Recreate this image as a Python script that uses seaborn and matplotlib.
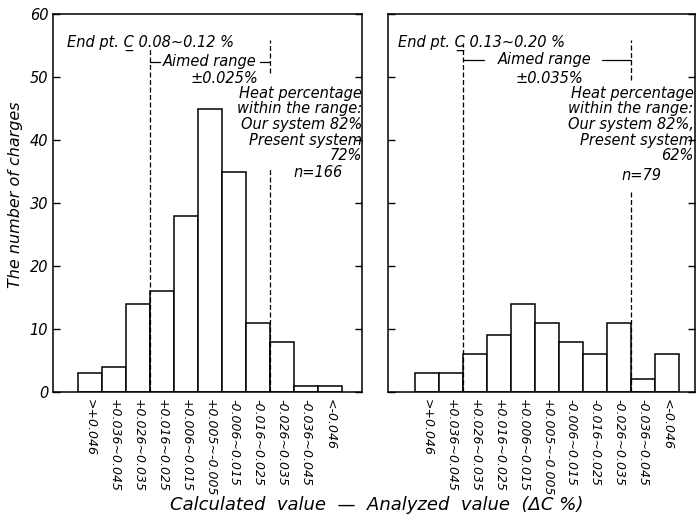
import matplotlib
matplotlib.use('Agg')
import matplotlib.pyplot as plt
import seaborn as sns
import pandas as pd

# deviation classes (calculated - analyzed, %C)
ranges = ['>+0.046', '+0.036~0.045', '+0.026~0.035', '+0.016~0.025', '+0.006~0.015',
          '+0.005~-0.005', '-0.006~0.015', '-0.016~0.025', '-0.026~0.035',
          '-0.036~0.045', '<-0.046']
counts_low = [3, 4, 14, 16, 28, 45, 35, 11, 8, 1, 1]     # end pt C 0.08~0.12 %
counts_high = [3, 3, 6, 9, 14, 11, 8, 6, 11, 2, 6]       # end pt C 0.13~0.20 %
yticks = [0, 10, 20, 30, 40, 50, 60]

sns.set_style('ticks')
plt.rcParams['font.family'] = ['DejaVu Sans']
plt.rcParams['font.style'] = 'oblique'
plt.rcParams['text.color'] = 'black'
plt.rcParams['axes.edgecolor'] = 'black'
plt.rcParams['xtick.color'] = 'black'
plt.rcParams['ytick.color'] = 'black'

fig = plt.figure(figsize=(6.98, 5.20), dpi=100)
ax1 = fig.add_axes([53/698, 128/520, 309/698, 378/520])
ax2 = fig.add_axes([388/698, 128/520, 307/698, 378/520])

df1 = pd.DataFrame({'range': ranges, 'n': counts_low})
df2 = pd.DataFrame({'range': ranges, 'n': counts_high})

for ax, df in [(ax1, df1), (ax2, df2)]:
    sns.barplot(data=df, x='range', y='n', order=ranges, ax=ax, color='white',
                saturation=1, edgecolor='black', linewidth=1.1, width=1.0)
    ax.set_ylim(0, 60)
    ax.set_yticks(yticks)
    ax.set_xlabel('')
    ax.set_ylabel('')
    ax.set_xticks(range(len(ranges)))
    ax.set_xticklabels(ranges, rotation=270, ha='center', va='top', fontsize=9)
    ax.tick_params(axis='x', length=0, pad=5)
    ax.tick_params(axis='y', direction='in', length=5, width=1, left=True, right=True,
                   labelsize=10.5)
    for s in ax.spines.values():
        s.set_visible(True)
        s.set_linewidth(1.1)

ax1.set_xlim(-1.54, 11.33)
ax2.set_xlim(-1.62, 11.17)
ax2.set_yticklabels([])

dash = dict(color='black', lw=0.9, ls=(0, (4, 2)))
txt = dict(fontsize=10.5, style='oblique')

# left panel
ax1.text(0.045, 0.945, 'End pt. C\u0332 0.08~0.12 %', transform=ax1.transAxes, va='top', **txt)
ax1.plot([2.5, 2.5], [0, 54.8], **dash)
ax1.plot([7.5, 7.5], [50.6, 55.9], **dash)
ax1.plot([7.5, 7.5], [0, 35.7], **dash)
ax1.plot([2.5, 2.9], [52.4, 52.4], color='black', lw=0.9)
ax1.plot([7.1, 7.5], [52.4, 52.4], color='black', lw=0.9)
ax1.text(5.0, 52.4, 'Aimed range', ha='center', va='center', **txt)
ax1.text(5.6, 49.8, '±0.025%', ha='center', va='center', **txt)
ax1.text(1.0, 48.6, 'Heat percentage\nwithin the range:\nOur system 82%\nPresent system\n72%',
         transform=ax1.get_yaxis_transform(), ha='right', va='top', multialignment='right',
         linespacing=1.05, **txt)
ax1.text(0.857, 34.9, 'n=166', transform=ax1.get_yaxis_transform(), ha='center',
         va='center', **txt)

# right panel
ax2.text(0.033, 0.945, 'End pt. C\u0332 0.13~0.20 %', transform=ax2.transAxes, va='top', **txt)
ax2.plot([1.5, 1.5], [0, 55.4], **dash)
ax2.plot([8.5, 8.5], [49.5, 55.9], **dash)
ax2.plot([8.5, 8.5], [0, 31.7], **dash)
ax2.plot([1.5, 2.4], [52.7, 52.7], color='black', lw=0.9)
ax2.plot([7.3, 8.5], [52.7, 52.7], color='black', lw=0.9)
ax2.text(4.9, 52.7, 'Aimed range', ha='center', va='center', **txt)
ax2.text(5.1, 49.8, '±0.035%', ha='center', va='center', **txt)
ax2.text(0.995, 48.6, 'Heat percentage\nwithin the range:\nOur system 82%,\nPresent system\n62%',
         transform=ax2.get_yaxis_transform(), ha='right', va='top', multialignment='right',
         linespacing=1.05, **txt)
ax2.text(0.827, 34.4, 'n=79', transform=ax2.get_yaxis_transform(), ha='center',
         va='center', **txt)

fig.text(0.0215, 0.625, 'The number of charges', rotation=90, ha='center', va='center',
         fontsize=11.5, style='oblique')
fig.text(0.539, 0.029, 'Calculated  value  \u2014  Analyzed  value  (\u0394C %)', ha='center',
         va='center', fontsize=13, style='oblique')

fig.savefig('out.png', dpi=100)
